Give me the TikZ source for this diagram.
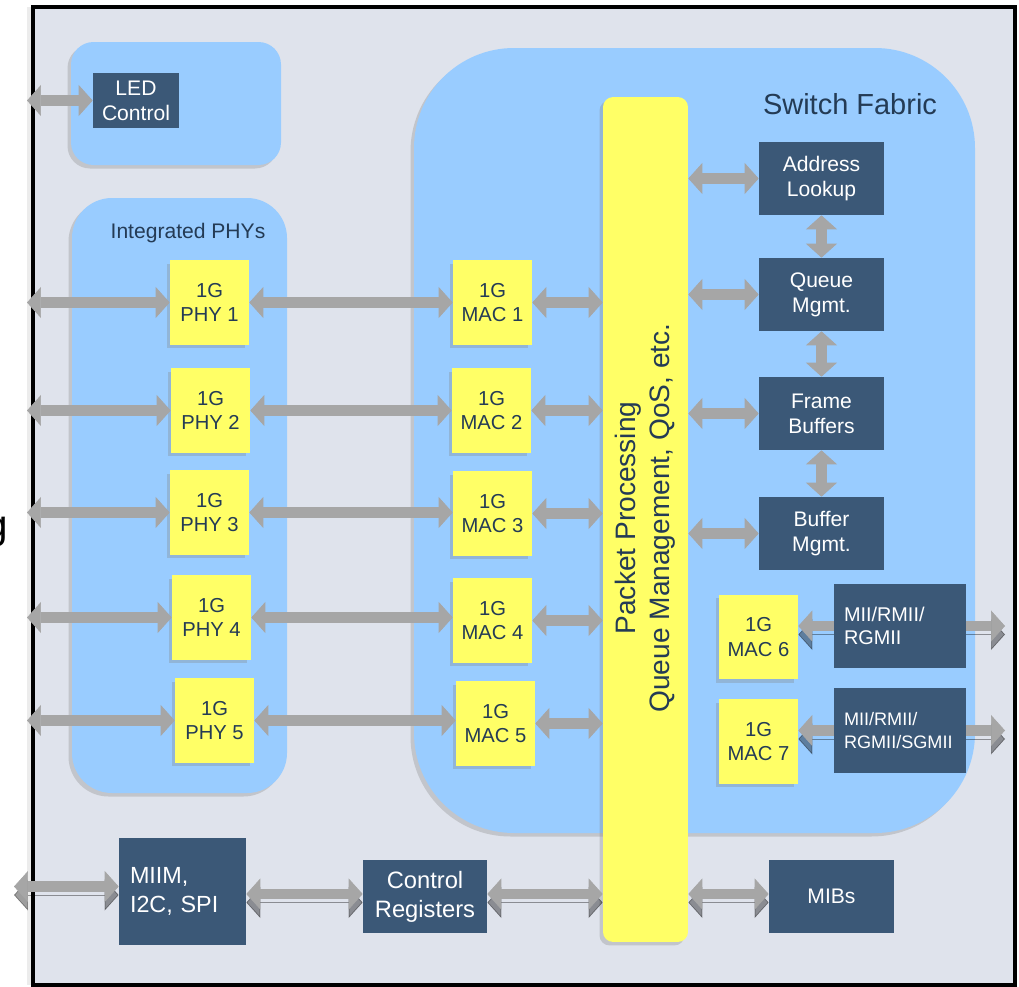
\documentclass[tikz,border=0pt]{standalone}
\usepackage{fontspec}
\setmainfont{Liberation Sans}
\usetikzlibrary{arrows.meta, positioning, shadows}
\definecolor{frm}{HTML}{DFE3EC}
\definecolor{pnl}{HTML}{99CCFF}
\definecolor{ylw}{HTML}{FFFF66}
\definecolor{blk}{HTML}{3B5877}
\definecolor{ink}{HTML}{243B55}
\definecolor{bus}{HTML}{A6A6A6}

\begin{document}
\begin{tikzpicture}[x=0.02cm, y=-0.02cm,
      >={Triangle[length=0.28cm, width=0.62cm, line width=0.4pt]},
      every node/.style={font=\fontsize{12}{14.4}\selectfont},
      shd/.style={drop shadow={shadow xshift=-0.07cm, shadow yshift=-0.07cm, opacity=0.3}},
      panel/.style={fill=pnl, shd},
      ybox/.style={fill=ylw, text=ink, align=center, minimum width=1.58cm,
        minimum height=1.7cm, inner sep=1pt, shd, font=\fontsize{11.5}{14}\selectfont},
      dbox/.style={fill=blk, text=white, align=center, minimum width=2.5cm,
        minimum height=1.46cm, inner sep=1pt},
      link/.style={<->, draw=bus, line width=0.21cm},
      link3d/.style={link, preaction={draw=black, opacity=0.38,
        transform canvas={yshift=-0.17cm}}}]
    \useasboundingbox (0,0) rectangle (1019,987);
    \node[anchor=base east, inner sep=0pt, font=\fontsize{23}{27}\selectfont] (cut) at (8,538) {g};
    \draw[line width=0.08cm, fill=frm,
      drop shadow={shadow xshift=-0.12cm, shadow yshift=0cm, opacity=0.15}]
      (33,7) rectangle (1015,985);

    \fill[panel, rounded corners=0.45cm] (71,42) rectangle (281,165);
    \fill[panel, rounded corners=0.8cm] (72,198) rectangle (287,793);
    \fill[panel, rounded corners=2cm] (414,48) rectangle (975,833);

    \node[dbox, minimum width=1.72cm, minimum height=1.1cm] (led) at (136,100.5) {LED\\Control};
    \node[text=ink] (phys) at (188,233) {Integrated PHYs};
    \node[text=ink, font=\fontsize{16.5}{20}\selectfont] (sw) at (850,104) {Switch Fabric};

    \node[fill=ylw, rounded corners=0.2cm, minimum width=1.7cm, minimum height=16.9cm, shd]
      (pp) at (645.5,519.5) {};
    \node[rotate=90, align=center, text=ink, font=\fontsize{16}{19.5}\selectfont]
      (pptxt) at (645,518) {Packet Processing\\Queue Management, QoS, etc.};

    \foreach \i/\xp/\yp/\xm/\ym in {1/209.5/302.5/492.5/302.5, 2/210.5/410.5/491.5/410.5,
        3/209.5/512.5/492.5/513.5, 4/211.5/617.5/492.5/620.5, 5/214.5/720.5/495.5/723.5}{
      \node[ybox] (phy\i) at (\xp,\yp) {1G\\PHY \i};
      \node[ybox] (mac\i) at (\xm,\ym) {1G\\MAC \i};
    }

    \foreach \n/\y/\t in {addr/178.5/{Address\\Lookup}, que/294.5/{Queue\\Mgmt.},
        frb/413.5/{Frame\\Buffers}, bfm/533.5/{Buffer\\Mgmt.}}
      \node[dbox] (\n) at (821.5,\y) {\t};

    \node[ybox] (mac6) at (758.5,637) {1G\\MAC 6};
    \node[ybox] (mac7) at (758.5,741.5) {1G\\MAC 7};
    \node[dbox, align=left, minimum width=2.64cm, minimum height=1.7cm, inner xsep=0.2cm,
      text width=2.24cm, font=\fontsize{11.3}{13.5}\selectfont] (mii1) at (900,626) {MII/RMII/\\RGMII};
    \node[dbox, align=left, minimum width=2.64cm, minimum height=1.7cm, inner xsep=0.2cm,
      text width=2.24cm, font=\fontsize{10.3}{13.5}\selectfont] (mii2) at (900,730.5) {MII/RMII/\\RGMII/SGMII};

    \node[dbox, align=left, minimum width=2.54cm, minimum height=2.14cm, inner xsep=0.22cm,
      text width=2.1cm, font=\fontsize{13.3}{16}\selectfont] (miim) at (182.5,891.5) {MIIM,\\I2C, SPI};
    \node[dbox, minimum width=2.48cm, font=\fontsize{13.5}{16.5}\selectfont]
      (creg) at (425,896.5) {Control\\Registers};
    \node[dbox] (mibs) at (831.5,896.5) {MIBs};

    \coordinate (lft) at (27,0);
    \coordinate (lft2) at (14,0);
    \coordinate (rgt) at (1005,0);
    \draw[link] (led.west) -- (led.west -| lft);
    \foreach \i in {1,...,5}{
      \draw[link] (lft |- phy\i.west) -- (phy\i.west);
      \draw[link] (phy\i.east) -- (phy\i.east -| mac\i.west);
      \draw[link] (mac\i.east) -- (mac\i.east -| pp.west);
    }
    \foreach \n in {addr, que, frb, bfm}
      \draw[link] (pp.east |- \n.west) -- (\n.west);
    \draw[link] (addr.south) -- (que.north);
    \draw[link] (que.south) -- (frb.north);
    \draw[link] (frb.south) -- (bfm.north);

    \draw[link3d, ->] (mii1.west) -- (mii1.west -| mac6.east);
    \draw[link3d, ->] (mii1.east) -- (mii1.east -| rgt);
    \draw[link3d, ->] (mii2.west) -- (mii2.west -| mac7.east);
    \draw[link3d, ->] (mii2.east) -- (mii2.east -| rgt);
    \draw[link3d] ([yshift=0.1cm]miim.west) -- ([yshift=0.1cm]miim.west -| lft2);
    \draw[link3d] ([yshift=0.05cm]miim.east |- creg.west) -- ([yshift=0.05cm]creg.west);
    \draw[link3d] ([yshift=0.05cm]creg.east) -- ([yshift=0.05cm]creg.east -| pp.west);
    \draw[link3d] ([yshift=0.05cm]pp.east |- mibs.west) -- ([yshift=0.05cm]mibs.west);
  \end{tikzpicture}
\end{document}
